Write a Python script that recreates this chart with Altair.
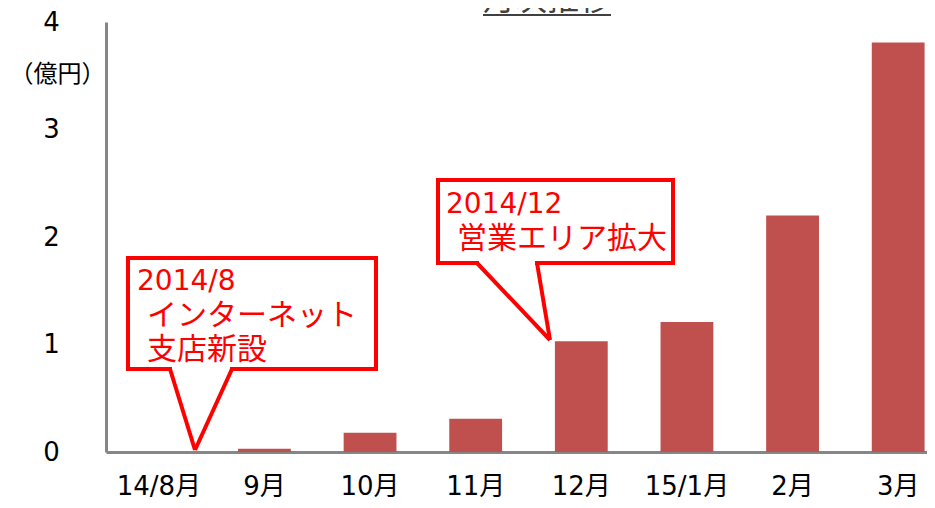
import altair as alt
import pandas as pd

# ---- data ----
months = ["14/8月", "9月", "10月", "11月", "12月", "15/1月", "2月", "3月"]
sales = [0.0, 0.03, 0.18, 0.31, 1.03, 1.21, 2.20, 3.81]
y_ticks = [0, 1, 2, 3, 4]
title_text = "月次推移"
unit_text = "（億円）"
note1 = ["2014/8", "インターネット", "支店新設"]
note2 = ["2014/12", "営業エリア拡大"]

df = pd.DataFrame({"month": months, "value": sales})

FONT = "DejaVu Sans, Noto Sans CJK JP"
RED = "#FF0000"
GRAY = "#868686"
BAR = "#C0504D"
one = alt.Data(values=[{}])

bars = alt.Chart(df).mark_bar(color=BAR).encode(
    x=alt.X(
        "month:N",
        sort=months,
        scale=alt.Scale(range=[0, 845], paddingInner=0.5, paddingOuter=0.25),
        axis=alt.Axis(
            title=None, labelAngle=0, labelFontSize=26, labelColor="#000000",
            labelFont=FONT, labelBaseline="middle", labelPadding=34,
            ticks=False, tickSize=0, domainColor=GRAY, domainWidth=3, grid=False,
        ),
    ),
    y=alt.Y(
        "value:Q",
        scale=alt.Scale(domain=[0, 4], nice=False),
        axis=alt.Axis(
            values=y_ticks, title=unit_text, titleAngle=0, titleX=-49, titleY=52,
            titleAlign="center", titleBaseline="middle", titleFontSize=24,
            titleFontWeight="normal", titleFont=FONT, titleColor="#000000",
            labelFontSize=26, labelAlign="center", labelBaseline="middle",
            labelPadding=55, labelColor="#000000", labelFont=FONT,
            ticks=False, tickSize=0, domainColor=GRAY, domainWidth=3, grid=False,
        ),
    ),
)


def rule(x, y, x2, y2, color, width, cap="butt"):
    return alt.Chart(one).mark_rule(color=color, strokeWidth=width, strokeCap=cap).encode(
        x=alt.value(x), y=alt.value(y), x2=alt.value(x2), y2=alt.value(y2)
    )


def box(x, y, x2, y2):
    return alt.Chart(one).mark_rect(fill="white", stroke=RED, strokeWidth=4).encode(
        x=alt.value(x), y=alt.value(y), x2=alt.value(x2), y2=alt.value(y2)
    )


def text(t, x, y, size=28, color=RED, align="left", baseline="middle"):
    return alt.Chart(one).mark_text(
        text=t, font=FONT, fontSize=size, color=color, align=align, baseline=baseline
    ).encode(x=alt.value(x), y=alt.value(y))


layers = [bars]

# callout 1
layers += [
    box(22, 236, 270, 347),
    rule(66, 347, 124, 347, "white", 6),
    rule(64, 347, 89, 428, RED, 4),
    rule(126, 347, 89, 428, RED, 4),
    text(note1[0], 31, 260),
    text(note1[1], 41, 294, size=30),
    text(note1[2], 41, 328, size=30),
]

# callout 2
layers += [
    box(332, 158, 567, 241),
    rule(373, 241, 429, 241, "white", 6),
    rule(371, 241, 444, 318, RED, 4),
    rule(431, 241, 444, 318, RED, 4),
    text(note2[0], 340, 183),
    text(note2[1], 351, 217, size=30),
]

# title (mostly cut off at top) with underline
layers += [
    text(title_text, 441, -12, size=32, color="#404040", align="center", baseline="alphabetic"),
    rule(377, -7, 505, -7, "#404040", 2),
]

chart = alt.layer(*layers).properties(
    width=821,
    height=430,
    padding={"left": 98, "top": 14, "right": 0, "bottom": 48},
    autosize=alt.AutoSizeParams(type="none"),
    background="white",
).configure_view(stroke=None)

chart.save("out.html", embed_options={"renderer": "svg", "actions": False})
